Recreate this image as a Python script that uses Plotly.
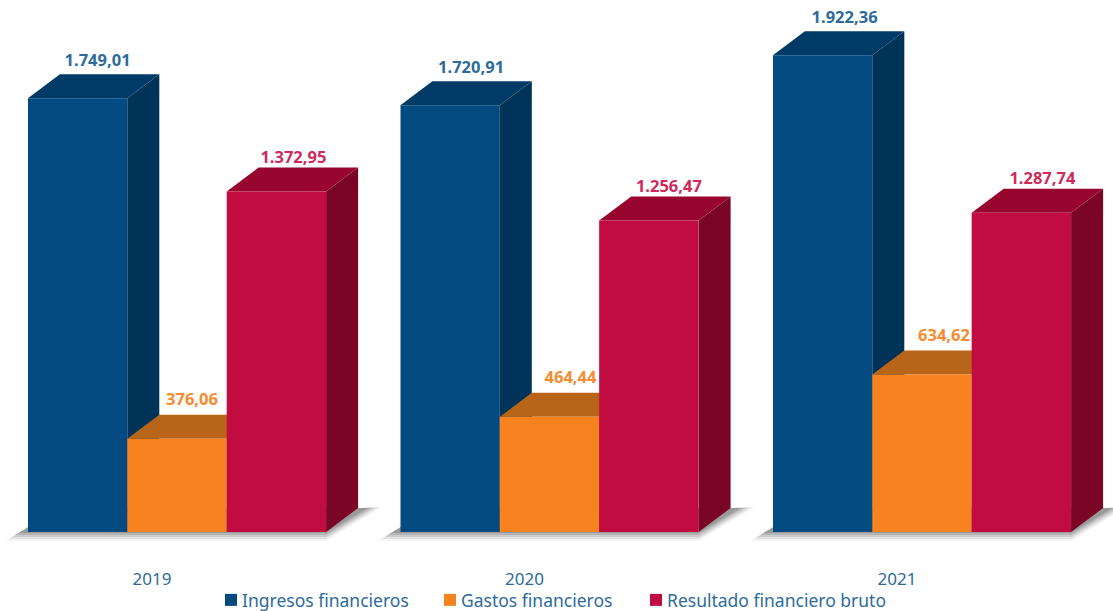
import plotly.graph_objects as go

years = ["2019", "2020", "2021"]
series_names = ["Ingresos financieros", "Gastos financieros", "Resultado financiero bruto"]
ingresos = [1749.01, 1720.91, 1922.36]
gastos = [376.06, 464.44, 634.62]
resultado = [1372.95, 1256.47, 1287.74]
labels_ingresos = ["1.749,01", "1.720,91", "1.922,36"]
labels_gastos = ["376,06", "464,44", "634,62"]
labels_resultado = ["1.372,95", "1.256,47", "1.287,74"]

W, H = 1113, 611
PX_GROUP = 372.5      # px per category step
PX_VAL = 0.248        # px per value unit
X0 = 177              # px of first group centre
BASE = 532            # px of the zero line
BOTTOM = 560          # px of plot-area bottom
DX, DY = 32, 24       # depth of the 3D extrusion, px
BAR = 99.4 / PX_GROUP

xr = [-X0 / PX_GROUP, (W - X0) / PX_GROUP]
yr = [(BASE - BOTTOM) / PX_VAL, BASE / PX_VAL]

def px(p):
    return p / PX_GROUP

def pv(p):
    return p / PX_VAL

series = [
    (series_names[0], ingresos, labels_ingresos, "#024a80", "#003a66", "#003358", "#2d6b9b", 36, 202, [20, 21, 22]),
    (series_names[1], gastos, labels_gastos, "#f78220", "#b8651a", "#a85a15", "#f68b2f", 38, 421, [15, 21, 22]),
    (series_names[2], resultado, labels_resultado, "#c00c40", "#98062f", "#7a0526", "#d02a5a", 33, 627, [17, 20, 21]),
]
idx = list(range(len(years)))
fig = go.Figure()

# floor shadow: stacked translucent polygons
for g in idx:
    left = g - 1.5 * BAR
    right = g + 1.5 * BAR
    for grow, alpha in [(9, 0.06), (7, 0.1), (5, 0.14), (3, 0.18), (1, 0.24)]:
        fig.add_trace(go.Scatter(
            x=[left - px(8 + grow * 1.6), right, right + px(DX + 8 + grow * 1.8), right + px(DX), left + px(DX)],
            y=[pv(-grow), pv(-grow), pv(DY + grow * 0.1), pv(DY), pv(DY)],
            mode="lines", fill="toself", fillcolor=f"rgba(70,70,70,{alpha})",
            line=dict(width=0), hoverinfo="skip", showlegend=False))

# extruded sides and tops, back to front
for j, (name, vals, labs, front, top, side, txt, ly, lx, ldx) in enumerate(series):
    for g in idx:
        v = vals[g]
        l = g + (j - 1.5) * BAR
        r = l + BAR
        fig.add_trace(go.Scatter(
            x=[r, r + px(DX), r + px(DX), r], y=[0, pv(DY), v + pv(DY), v],
            mode="lines", fill="toself", fillcolor=side, line=dict(width=0, color=side, simplify=False),
            hoverinfo="skip", showlegend=False))
        fig.add_trace(go.Scatter(
            x=[l, r, r + px(DX), l + px(DX)], y=[v, v, v + pv(DY), v + pv(DY)],
            mode="lines", fill="toself", fillcolor=top, line=dict(width=0, color=top, simplify=False),
            hoverinfo="skip", showlegend=False))

# front faces on an overlaying axis pair so they sit above the extrusion
for k, (name, vals, labs, front, top, side, txt, ly, lx, ldx) in enumerate(series):
    fig.add_trace(go.Bar(name=name, x=idx, y=vals, marker=dict(color=front, line=dict(width=0)),
                         xaxis="x2", yaxis="y2", legend="legend" if k == 0 else f"legend{k + 1}"))

# value labels
for j, (name, vals, labs, front, top, side, txt, ly, lx, ldx) in enumerate(series):
    fig.add_trace(go.Scatter(
        x=[g + (j - 1) * BAR + px(ldx[g]) for g in idx],
        y=[vals[g] + pv(ly) for g in idx],
        text=labs, mode="text", textposition="middle center",
        textfont=dict(family="Noto Sans", size=16.5, color=txt, weight="bold"),
        xaxis="x2", yaxis="y2", hoverinfo="skip", showlegend=False))

legends = {}
for k, s in enumerate(series):
    legends["legend" if k == 0 else f"legend{k + 1}"] = dict(
        x=s[8] / W, xanchor="left", y=(BOTTOM - 582) / BOTTOM, yanchor="top",
        font=dict(family="Noto Sans", size=17.5, color="#2d6b9b"),
        bgcolor="rgba(0,0,0,0)", itemclick=False, itemdoubleclick=False)

fig.update_layout(
    width=W, height=H, autosize=False,
    margin=dict(l=0, r=0, t=0, b=H - BOTTOM, autoexpand=False),
    paper_bgcolor="white", plot_bgcolor="white",
    barmode="group", bargap=0.2, bargroupgap=0,
    xaxis=dict(range=xr, showgrid=False, zeroline=False, showline=False,
               tickmode="array", tickvals=[g - 25 / PX_GROUP for g in idx], ticktext=years,
               ticks="", ticklabelstandoff=7,
               tickfont=dict(family="Noto Sans", size=17, color="#2d6b9b")),
    yaxis=dict(range=yr, visible=False),
    xaxis2=dict(range=xr, overlaying="x", visible=False),
    yaxis2=dict(range=yr, overlaying="y", visible=False),
    showlegend=True,
    **legends,
)
fig.write_html(
    "out.html", config=dict(displayModeBar=False),
    post_script=(
        "document.body.style.margin='0';document.body.style.overflow='hidden';"
        "function nudge(){document.querySelectorAll('.legendpoints path').forEach(function(p){"
        "p.setAttribute('transform','translate(29,0)');p.style.transform='translate(29px,0px)';});}"
        "nudge();var n=0;var t=setInterval(function(){nudge();if(++n>60)clearInterval(t);},50);"
    ),
)
